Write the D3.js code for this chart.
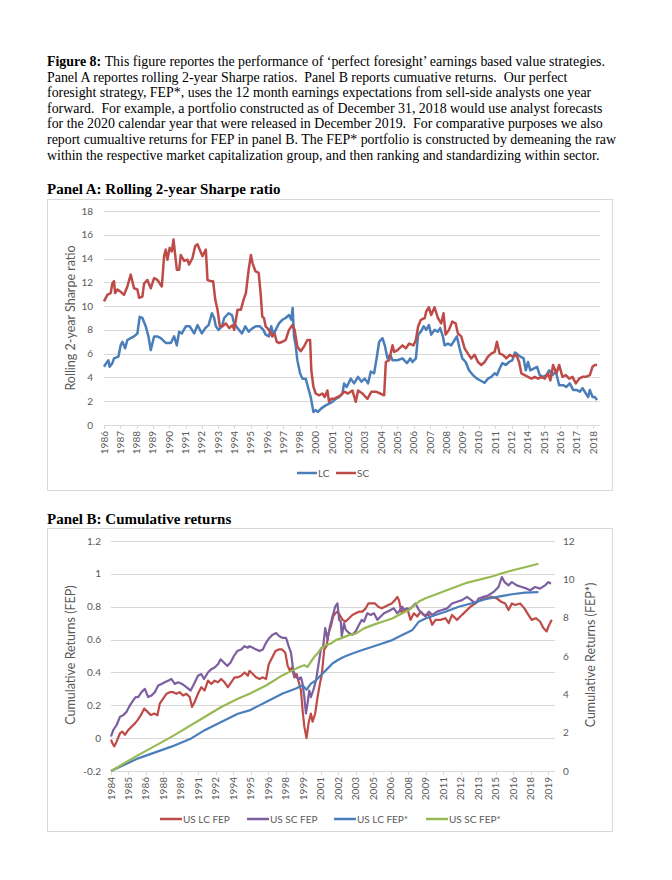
<!DOCTYPE html>
<html lang="en">
<head>
<meta charset="UTF-8">
<title>Figure 8</title>
<script src="https://cdn.jsdelivr.net/npm/d3@7"></script>
<style>
  body { margin: 0; background: #fff; }
  text { font-family: Lato, "Open Sans", sans-serif; }
  .serif { font-family: "Liberation Serif", "Times New Roman", serif; }
</style>
</head>
<body>
<svg id="fig" width="672" height="880"></svg>
<script>
// ---- caption ----
const captionLines = [
  "This figure reportes the performance of \u2018perfect foresight\u2019 earnings based value strategies.",
  "Panel A reportes rolling 2-year Sharpe ratios.  Panel B reports cumuative returns.  Our perfect",
  "foresight strategy, FEP*, uses the 12 month earnings expectations from sell-side analysts one year",
  "forward.  For example, a portfolio constructed as of December 31, 2018 would use analyst forecasts",
  "for the 2020 calendar year that were released in December 2019.  For comparative purposes we also",
  "report cumualtive returns for FEP in panel B. The FEP* portfolio is constructed by demeaning the raw",
  "within the respective market capitalization group, and then ranking and standardizing within sector."
];

// ---- panel A: rolling 2-year Sharpe ratio ----
const yearLabelsA = ["1986","1987","1988","1989","1990","1991","1992","1993","1994","1995","1996","1997","1998",
  "2000","2001","2002","2003","2004","2005","2006","2007","2008","2009","2010","2011","2012","2014","2015","2016","2017","2018"];
const sharpeTicks = [0,2,4,6,8,10,12,14,16,18];

const lcSharpe = [
  [1986.00,4.9],[1986.15,5.2],[1986.29,5.45],[1986.37,4.9],[1986.55,5.2],[1986.66,5.6],[1986.95,5.75],[1987.10,6.7],
  [1987.21,7.0],[1987.39,6.45],[1987.54,7.15],[1987.76,7.3],[1987.98,7.45],[1988.20,7.7],[1988.35,9.1],[1988.53,9.0],
  [1988.75,8.3],[1988.93,7.45],[1989.08,6.3],[1989.30,7.45],[1989.52,7.45],[1989.74,7.3],[1990.07,6.9],[1990.40,6.9],
  [1990.62,7.45],[1990.80,6.7],[1990.95,7.85],[1991.13,7.7],[1991.39,8.3],[1991.65,8.3],[1991.94,7.7],[1992.16,8.4],
  [1992.45,7.7],[1992.67,8.15],[1992.89,8.4],[1993.11,9.4],[1993.26,9.0],[1993.37,8.3],[1993.55,8.0],[1993.77,8.3],
  [1993.92,9.0],[1994.21,9.4],[1994.43,9.25],[1994.58,8.55],[1994.80,8.15],[1995.09,7.7],[1995.31,8.3],[1995.53,7.85],
  [1995.79,8.15],[1996.01,8.3],[1996.27,8.3],[1996.50,8.0],[1996.65,7.6],[1996.87,7.45],[1997.02,8.3],[1997.16,7.6],
  [1997.31,8.0],[1997.53,8.55],[1997.75,8.85],[1997.97,9.0],[1998.19,9.25],[1998.34,8.85],[1998.43,9.85],[1998.52,7.45],
  [1998.63,6.7],[1998.74,5.45],[1998.92,4.35],[1999.07,3.9],[1999.29,3.9],[1999.44,3.2],[1999.62,2.35],[1999.80,1.1],
  [1999.95,1.25],[2000.10,1.1],[2000.32,1.4],[2000.61,1.65],[2000.83,1.8],[2001.05,1.95],[2001.27,2.2],[2001.49,2.35],
  [2001.71,2.65],[2001.82,3.5],[2001.99,3.2],[2002.26,3.9],[2002.48,3.5],[2002.74,4.05],[2002.96,3.65],[2003.18,3.9],
  [2003.40,3.5],[2003.58,4.5],[2003.80,4.35],[2003.98,5.75],[2004.13,7.0],[2004.35,7.3],[2004.50,6.7],[2004.68,5.6],
  [2004.86,5.9],[2005.01,5.45],[2005.34,5.45],[2005.67,5.6],[2005.96,5.2],[2006.18,5.6],[2006.33,5.3],[2006.55,5.6],
  [2006.70,7.6],[2006.88,7.85],[2007.06,8.3],[2007.23,8.0],[2007.41,8.4],[2007.56,7.6],[2007.78,8.0],[2008.00,7.85],
  [2008.15,8.15],[2008.33,7.45],[2008.44,6.7],[2008.66,6.85],[2008.88,6.7],[2009.10,7.15],[2009.25,7.45],[2009.43,6.45],
  [2009.61,5.6],[2009.83,5.3],[2010.05,4.6],[2010.31,4.2],[2010.57,3.9],[2010.86,3.7],[2011.08,3.55],[2011.30,3.9],
  [2011.52,4.05],[2011.74,4.35],[2011.89,4.2],[2012.07,4.75],[2012.25,5.2],[2012.47,5.05],[2012.69,5.3],[2012.91,5.45],
  [2013.08,6.1],[2013.28,5.9],[2013.43,5.75],[2013.65,5.6],[2013.79,4.6],[2013.94,5.3],[2014.09,4.6],[2014.31,4.75],
  [2014.53,4.9],[2014.71,4.2],[2014.93,4.05],[2015.15,4.2],[2015.33,4.6],[2015.55,4.2],[2015.77,4.5],[2015.99,3.35],
  [2016.25,3.35],[2016.47,3.2],[2016.69,3.5],[2016.91,2.95],[2017.13,2.95],[2017.35,2.8],[2017.53,3.1],[2017.75,2.65],
  [2017.90,2.35],[2018.01,2.95],[2018.19,2.35],[2018.34,2.35],[2018.49,2.1]
];

const scSharpe = [
  [1986.00,10.4],[1986.22,10.95],[1986.44,11.1],[1986.55,11.9],[1986.66,12.1],[1986.73,11.1],[1986.88,11.4],[1987.10,11.2],
  [1987.32,10.95],[1987.54,11.65],[1987.76,12.65],[1987.98,11.5],[1988.20,11.4],[1988.31,10.7],[1988.53,10.8],[1988.64,11.9],
  [1988.86,12.2],[1989.08,11.5],[1989.30,12.35],[1989.52,12.2],[1989.81,11.65],[1989.96,14.2],[1990.07,14.75],[1990.18,13.9],
  [1990.33,14.9],[1990.47,14.6],[1990.58,15.6],[1990.69,14.3],[1990.80,13.05],[1990.95,13.05],[1991.06,14.3],[1991.28,13.8],
  [1991.50,13.9],[1991.61,13.5],[1991.83,14.05],[1992.01,15.05],[1992.16,15.2],[1992.31,14.75],[1992.49,14.2],[1992.71,14.75],
  [1992.82,12.2],[1993.04,12.1],[1993.19,12.1],[1993.33,10.55],[1993.48,9.7],[1993.63,8.3],[1993.81,8.3],[1994.03,8.55],
  [1994.25,8.15],[1994.47,8.4],[1994.58,8.0],[1994.80,9.7],[1995.02,9.7],[1995.20,10.55],[1995.35,11.1],[1995.53,13.05],
  [1995.68,14.3],[1995.79,13.6],[1995.97,12.95],[1996.19,12.8],[1996.32,11.1],[1996.43,9.1],[1996.54,9.0],[1996.65,8.3],
  [1996.87,8.0],[1997.09,7.45],[1997.24,7.7],[1997.38,7.0],[1997.53,6.9],[1997.75,7.0],[1997.97,7.15],[1998.19,8.0],
  [1998.41,8.4],[1998.56,8.0],[1998.74,6.6],[1998.96,6.2],[1999.18,6.6],[1999.40,7.15],[1999.58,7.15],[1999.66,4.6],
  [1999.80,3.2],[1999.95,2.65],[2000.17,2.5],[2000.39,2.65],[2000.54,2.35],[2000.72,2.9],[2000.83,1.95],[2000.98,2.2],
  [2001.16,2.2],[2001.38,2.35],[2001.60,2.5],[2001.82,2.8],[2002.08,2.65],[2002.37,2.9],[2002.59,1.95],[2002.74,2.9],
  [2003.03,2.65],[2003.36,2.2],[2003.62,2.8],[2003.91,2.8],[2004.20,2.65],[2004.46,2.5],[2004.57,5.3],[2004.79,5.45],
  [2005.01,6.7],[2005.12,6.15],[2005.34,6.3],[2005.67,6.7],[2005.89,6.45],[2006.11,6.85],[2006.40,6.7],[2006.55,7.15],
  [2006.70,8.3],[2006.88,8.85],[2007.14,9.0],[2007.23,9.55],[2007.41,9.9],[2007.56,9.25],[2007.78,9.9],[2008.00,9.0],
  [2008.22,8.55],[2008.37,9.4],[2008.51,7.6],[2008.73,8.0],[2008.95,8.7],[2009.17,8.55],[2009.32,7.7],[2009.54,7.45],
  [2009.76,6.45],[2009.98,6.0],[2010.20,5.6],[2010.42,5.9],[2010.64,5.3],[2010.86,5.05],[2011.08,5.3],[2011.30,5.75],
  [2011.52,6.0],[2011.74,6.15],[2011.89,7.0],[2012.07,6.0],[2012.29,5.9],[2012.51,5.6],[2012.73,5.9],[2012.95,5.75],
  [2013.17,5.9],[2013.35,5.3],[2013.50,4.35],[2013.72,4.2],[2013.94,4.05],[2014.16,3.9],[2014.38,4.05],[2014.60,3.9],
  [2014.82,4.05],[2015.04,3.9],[2015.26,4.35],[2015.41,3.75],[2015.59,5.05],[2015.81,4.35],[2015.99,5.05],[2016.21,4.05],
  [2016.43,4.2],[2016.65,3.9],[2016.87,4.05],[2017.09,3.5],[2017.31,3.9],[2017.53,4.05],[2017.75,4.05],[2018.01,4.2],
  [2018.19,4.9],[2018.34,5.05],[2018.49,5.05]
];

// ---- panel B: cumulative returns ----
const yearLabelsB = ["1984","1985","1986","1988","1989","1991","1992","1994","1995","1996","1998","1999","2001",
  "2002","2003","2005","2006","2008","2009","2011","2012","2013","2015","2016","2018","2019"];
const leftTicks = [-0.2,0,0.2,0.4,0.6,0.8,1,1.2];
const rightTicks = [0,2,4,6,8,10,12];

// left axis (FEP)
const usLcFep = [
  [1984.0,-0.01],[1984.11,-0.03],[1984.27,-0.05],[1984.46,-0.02],[1984.73,0.03],[1984.91,0.04],[1985.13,0.02],[1985.40,0.05],
  [1985.67,0.07],[1985.94,0.09],[1986.15,0.11],[1986.42,0.14],[1986.69,0.18],[1986.96,0.16],[1987.23,0.14],[1987.49,0.15],
  [1987.76,0.14],[1987.95,0.21],[1988.22,0.24],[1988.49,0.27],[1988.76,0.28],[1989.03,0.28],[1989.30,0.27],[1989.56,0.28],
  [1989.83,0.26],[1990.10,0.27],[1990.37,0.25],[1990.56,0.19],[1990.77,0.22],[1991.04,0.27],[1991.31,0.31],[1991.58,0.29],
  [1991.85,0.35],[1992.12,0.33],[1992.39,0.35],[1992.66,0.34],[1992.92,0.36],[1993.19,0.34],[1993.46,0.31],[1993.73,0.34],
  [1994.00,0.37],[1994.27,0.37],[1994.54,0.38],[1994.81,0.40],[1995.08,0.38],[1995.21,0.41],[1995.48,0.39],[1995.75,0.37],
  [1996.02,0.36],[1996.29,0.37],[1996.55,0.36],[1996.77,0.45],[1997.04,0.49],[1997.31,0.53],[1997.58,0.54],[1997.85,0.54],
  [1998.11,0.52],[1998.30,0.44],[1998.49,0.41],[1998.65,0.43],[1998.84,0.37],[1999.03,0.39],[1999.24,0.33],[1999.38,0.29],
  [1999.51,0.17],[1999.65,0.07],[1999.83,0.0],[1999.99,0.09],[2000.18,0.15],[2000.32,0.10],[2000.53,0.15],[2000.72,0.25],
  [2000.91,0.33],[2001.07,0.39],[2001.26,0.54],[2001.45,0.56],[2001.61,0.64],[2001.80,0.68],[2001.98,0.74],[2002.15,0.76],
  [2002.33,0.77],[2002.52,0.75],[2002.74,0.72],[2003.0,0.71],[2003.27,0.73],[2003.54,0.75],[2003.81,0.76],[2004.08,0.77],
  [2004.35,0.77],[2004.62,0.79],[2004.83,0.82],[2005.10,0.82],[2005.37,0.82],[2005.64,0.80],[2005.91,0.79],[2006.18,0.80],
  [2006.45,0.81],[2006.72,0.82],[2006.99,0.84],[2007.18,0.86],[2007.31,0.84],[2007.53,0.76],[2007.71,0.78],[2007.98,0.79],
  [2008.25,0.72],[2008.52,0.76],[2008.79,0.74],[2009.06,0.77],[2009.33,0.75],[2009.73,0.75],[2010.0,0.69],[2010.27,0.72],
  [2010.67,0.72],[2011.07,0.73],[2011.34,0.70],[2011.61,0.75],[2012.01,0.72],[2012.28,0.74],[2012.69,0.77],[2013.09,0.80],
  [2013.49,0.82],[2013.9,0.84],[2014.3,0.85],[2014.84,0.86],[2015.24,0.85],[2015.59,0.83],[2015.91,0.82],[2016.18,0.78],
  [2016.45,0.82],[2016.72,0.81],[2017.12,0.82],[2017.47,0.79],[2017.79,0.75],[2018.06,0.72],[2018.39,0.73],[2018.73,0.71],
  [2019.0,0.67],[2019.27,0.65],[2019.41,0.68],[2019.68,0.72]
];

const usScFep = [
  [1984.0,0.01],[1984.19,0.05],[1984.46,0.08],[1984.73,0.13],[1984.99,0.14],[1985.26,0.16],[1985.53,0.20],[1985.80,0.23],
  [1985.99,0.25],[1986.20,0.25],[1986.47,0.28],[1986.74,0.30],[1987.01,0.25],[1987.28,0.26],[1987.55,0.28],[1987.82,0.32],
  [1988.09,0.33],[1988.35,0.34],[1988.62,0.35],[1988.89,0.36],[1989.16,0.33],[1989.43,0.34],[1989.75,0.33],[1990.10,0.31],
  [1990.45,0.29],[1990.72,0.33],[1991.04,0.38],[1991.31,0.39],[1991.53,0.36],[1991.85,0.40],[1992.12,0.42],[1992.39,0.43],
  [1992.66,0.45],[1992.87,0.48],[1993.14,0.46],[1993.41,0.44],[1993.68,0.46],[1993.95,0.50],[1994.22,0.53],[1994.54,0.54],
  [1994.81,0.56],[1995.08,0.55],[1995.21,0.56],[1995.48,0.55],[1995.75,0.54],[1996.02,0.53],[1996.29,0.54],[1996.55,0.58],
  [1996.82,0.61],[1997.09,0.63],[1997.36,0.64],[1997.63,0.62],[1997.90,0.61],[1998.17,0.61],[1998.38,0.56],[1998.57,0.52],
  [1998.76,0.41],[1999.0,0.37],[1999.19,0.36],[1999.38,0.37],[1999.51,0.33],[1999.65,0.25],[1999.78,0.15],[1999.91,0.21],
  [2000.05,0.29],[2000.18,0.25],[2000.37,0.29],[2000.59,0.35],[2000.80,0.45],[2000.99,0.54],[2001.18,0.56],[2001.34,0.67],
  [2001.53,0.60],[2001.72,0.68],[2001.93,0.74],[2002.15,0.80],[2002.33,0.82],[2002.47,0.72],[2002.6,0.71],[2002.68,0.62],
  [2002.87,0.70],[2003.0,0.66],[2003.27,0.64],[2003.54,0.63],[2003.81,0.65],[2004.08,0.69],[2004.3,0.72],[2004.48,0.71],
  [2004.75,0.76],[2005.02,0.75],[2005.29,0.76],[2005.56,0.72],[2005.83,0.74],[2006.10,0.76],[2006.37,0.77],[2006.63,0.78],
  [2006.90,0.79],[2007.17,0.76],[2007.31,0.77],[2007.58,0.80],[2007.71,0.78],[2008.25,0.79],[2008.65,0.82],[2008.92,0.78],
  [2009.19,0.76],[2009.46,0.74],[2009.73,0.77],[2010.0,0.75],[2010.4,0.77],[2010.8,0.78],[2011.21,0.79],[2011.61,0.82],
  [2012.01,0.83],[2012.42,0.84],[2012.82,0.86],[2013.17,0.84],[2013.49,0.82],[2013.76,0.85],[2014.16,0.86],[2014.57,0.87],
  [2014.97,0.89],[2015.37,0.92],[2015.64,0.98],[2015.86,0.95],[2016.18,0.93],[2016.45,0.95],[2016.85,0.93],[2017.26,0.92],
  [2017.66,0.91],[2017.93,0.90],[2018.33,0.92],[2018.73,0.91],[2019.14,0.93],[2019.41,0.95],[2019.62,0.94]
];

// right axis (FEP*)
const usLcFepStar = [
  [1984.0,0],[1986.2,0.66],[1988.89,1.27],[1990.5,1.7],[1991.58,2.13],[1992.92,2.56],[1994.27,2.99],[1995.21,3.16],
  [1996.55,3.6],[1997.9,4.04],[1998.97,4.3],[1999.51,4.47],[1999.83,4.24],[2000.18,4.56],[2000.59,4.73],[2000.99,5.0],
  [2001.39,5.25],[2001.93,5.61],[2002.33,5.78],[2002.87,5.96],[2003.54,6.13],[2004.35,6.31],[2005.16,6.48],[2005.96,6.65],
  [2006.77,6.83],[2007.58,7.09],[2008.12,7.27],[2008.39,7.35],[2008.92,7.79],[2009.46,7.96],[2010.27,8.14],[2011.07,8.31],
  [2012.15,8.57],[2013.22,8.75],[2014.3,8.96],[2015.37,9.1],[2016.45,9.22],[2017.52,9.31],[2018.6,9.33]
];

const usScFepStar = [
  [1984.0,0],[1986.2,0.83],[1988.89,1.78],[1991.58,2.82],[1992.92,3.34],[1994.27,3.77],[1995.21,4.03],[1996.55,4.46],
  [1997.9,5.0],[1998.7,5.25],[1999.24,5.43],[1999.65,5.52],[1999.91,5.43],[2000.18,5.69],[2000.45,5.95],[2000.72,6.13],
  [2000.99,6.39],[2001.39,6.57],[2001.8,6.65],[2002.2,6.83],[2002.6,6.92],[2003.27,7.09],[2003.81,7.17],[2004.48,7.44],
  [2005.16,7.61],[2005.96,7.79],[2006.77,7.96],[2007.58,8.23],[2008.12,8.4],[2008.92,8.84],[2009.46,9.01],[2010.54,9.27],
  [2011.61,9.53],[2012.69,9.8],[2013.76,9.97],[2014.84,10.15],[2015.64,10.32],[2016.45,10.46],[2017.52,10.63],[2018.6,10.81]
];

const BLUE = "#4a7ebb", RED = "#be4b48", PURPLE = "#7d5fa0", GREEN = "#98b954";
const GRID = "#d9d9d9", LABEL = "#595959";

const svg = d3.select("#fig");
svg.append("rect").attr("width", 672).attr("height", 880).attr("fill", "#fff");

// caption
const cap = svg.append("g");
captionLines.forEach((line, i) => {
  const t = cap.append("text")
    .attr("class", "serif")
    .attr("x", 47).attr("y", 66 + i * 15.6)
    .style("font-size", "13.9px")
    .style("white-space", "pre")
    .attr("fill", "#000");
  if (i === 0) {
    t.append("tspan").style("font-weight", "bold").text("Figure 8: ");
  }
  t.append("tspan").text(line);
});

function panelTitle(txt, y) {
  svg.append("text").attr("class", "serif")
    .attr("x", 47).attr("y", y)
    .style("font-size", "15px").style("font-weight", "bold")
    .text(txt);
}

function line(xs, ys, data) {
  return d3.line().x(d => xs(d[0])).y(d => ys(d[1]))(data);
}

// ================= Panel A =================
panelTitle("Panel A: Rolling 2-year Sharpe ratio", 194);
svg.append("rect").attr("x", 47.5).attr("y", 199.5).attr("width", 565).attr("height", 291)
  .attr("fill", "none").attr("stroke", GRID);

const xA = d3.scaleLinear().domain([1986, 2018.55]).range([104, 598]);
const yA = d3.scaleLinear().domain([0, 18]).range([425, 211]);
const tickA = d3.scaleLinear().domain([0, yearLabelsA.length - 1]).range([104, 593]);

const gA = svg.append("g");
gA.selectAll("line.grid").data(sharpeTicks).join("line")
  .attr("x1", 104).attr("x2", 600)
  .attr("y1", d => Math.round(yA(d)) + 0.5).attr("y2", d => Math.round(yA(d)) + 0.5)
  .attr("stroke", GRID).attr("stroke-width", 1);
gA.selectAll("text.yl").data(sharpeTicks).join("text")
  .attr("x", 93).attr("y", d => yA(d)).attr("dy", "0.35em")
  .attr("text-anchor", "end").attr("fill", LABEL).style("font-size", "10px")
  .text(d => d);
gA.selectAll("line.tk").data(yearLabelsA).join("line")
  .attr("x1", (d, i) => Math.round(tickA(i)) + 0.5).attr("x2", (d, i) => Math.round(tickA(i)) + 0.5)
  .attr("y1", 425).attr("y2", 429).attr("stroke", GRID);
gA.selectAll("text.xl").data(yearLabelsA).join("text")
  .attr("transform", (d, i) => `translate(${tickA(i)},431) rotate(-90)`)
  .attr("dy", "0.35em").attr("text-anchor", "end")
  .attr("fill", LABEL).style("font-size", "10px")
  .text(d => d);
gA.append("text")
  .attr("transform", "translate(71,318) rotate(-90)")
  .attr("text-anchor", "middle").attr("dy", "0.35em")
  .attr("fill", LABEL).style("font-size", "12.5px")
  .text("Rolling 2-year Sharpe ratio");

gA.append("path").attr("d", line(xA, yA, lcSharpe))
  .attr("fill", "none").attr("stroke", BLUE).attr("stroke-width", 2.5).attr("stroke-linejoin", "round");
gA.append("path").attr("d", line(xA, yA, scSharpe))
  .attr("fill", "none").attr("stroke", RED).attr("stroke-width", 2.5).attr("stroke-linejoin", "round");

// legend A
const legA = [{ name: "LC", color: BLUE, x: 297 }, { name: "SC", color: RED, x: 336 }];
legA.forEach(l => {
  gA.append("line").attr("x1", l.x).attr("x2", l.x + 20).attr("y1", 473).attr("y2", 473)
    .attr("stroke", l.color).attr("stroke-width", 2.5);
  gA.append("text").attr("x", l.x + 21).attr("y", 473).attr("dy", "0.35em")
    .attr("fill", LABEL).style("font-size", "10px").text(l.name);
});

// ================= Panel B =================
panelTitle("Panel B: Cumulative returns", 524);
svg.append("rect").attr("x", 47.5).attr("y", 528.5).attr("width", 565).attr("height", 303)
  .attr("fill", "none").attr("stroke", GRID);

const xB = d3.scaleLinear().domain([1984, 2019.7]).range([111, 552]);
const yL = d3.scaleLinear().domain([-0.2, 1.2]).range([771, 541]);
const yR = d3.scaleLinear().domain([0, 12]).range([771, 541]);
const tickB = d3.scaleLinear().domain([0, yearLabelsB.length - 1]).range([111, 548]);

const gB = svg.append("g");
gB.selectAll("line.grid").data(leftTicks).join("line")
  .attr("x1", 111).attr("x2", 555)
  .attr("y1", d => Math.round(yL(d)) + 0.5).attr("y2", d => Math.round(yL(d)) + 0.5)
  .attr("stroke", GRID);
gB.selectAll("text.yl").data(leftTicks).join("text")
  .attr("x", 101).attr("y", d => yL(d)).attr("dy", "0.35em")
  .attr("text-anchor", "end").attr("fill", LABEL).style("font-size", "10px")
  .text(d => d);
gB.selectAll("text.yr").data(rightTicks).join("text")
  .attr("x", 563).attr("y", d => yR(d)).attr("dy", "0.35em")
  .attr("text-anchor", "start").attr("fill", LABEL).style("font-size", "10px")
  .text(d => d);
gB.selectAll("line.tk").data(yearLabelsB).join("line")
  .attr("x1", (d, i) => Math.round(tickB(i)) + 0.5).attr("x2", (d, i) => Math.round(tickB(i)) + 0.5)
  .attr("y1", 771).attr("y2", 775).attr("stroke", GRID);
gB.selectAll("text.xl").data(yearLabelsB).join("text")
  .attr("transform", (d, i) => `translate(${tickB(i)},777) rotate(-90)`)
  .attr("dy", "0.35em").attr("text-anchor", "end")
  .attr("fill", LABEL).style("font-size", "10px")
  .text(d => d);
gB.append("text")
  .attr("transform", "translate(71,655) rotate(-90)")
  .attr("text-anchor", "middle").attr("dy", "0.35em")
  .attr("fill", LABEL).style("font-size", "12.5px")
  .text("Cumulative Returns (FEP)");
gB.append("text")
  .attr("transform", "translate(591,655) rotate(-90)")
  .attr("text-anchor", "middle").attr("dy", "0.35em")
  .attr("fill", LABEL).style("font-size", "12.5px")
  .text("Cumulative Returns (FEP*)");

const seriesB = [
  { data: usLcFep, ys: yL, color: RED },
  { data: usScFep, ys: yL, color: PURPLE },
  { data: usLcFepStar, ys: yR, color: BLUE },
  { data: usScFepStar, ys: yR, color: GREEN }
];
seriesB.forEach(s => {
  gB.append("path").attr("d", line(xB, s.ys, s.data))
    .attr("fill", "none").attr("stroke", s.color).attr("stroke-width", 2.2).attr("stroke-linejoin", "round");
});

const legB = [
  { name: "US LC FEP", color: RED, x: 160 },
  { name: "US SC FEP", color: PURPLE, x: 247 },
  { name: "US LC FEP*", color: BLUE, x: 334 },
  { name: "US SC FEP*", color: GREEN, x: 426 }
];
legB.forEach(l => {
  gB.append("line").attr("x1", l.x).attr("x2", l.x + 22).attr("y1", 819).attr("y2", 819)
    .attr("stroke", l.color).attr("stroke-width", 2.5);
  gB.append("text").attr("x", l.x + 23).attr("y", 819).attr("dy", "0.35em")
    .attr("fill", LABEL).style("font-size", "10px").text(l.name);
});
</script>
</body>
</html>
